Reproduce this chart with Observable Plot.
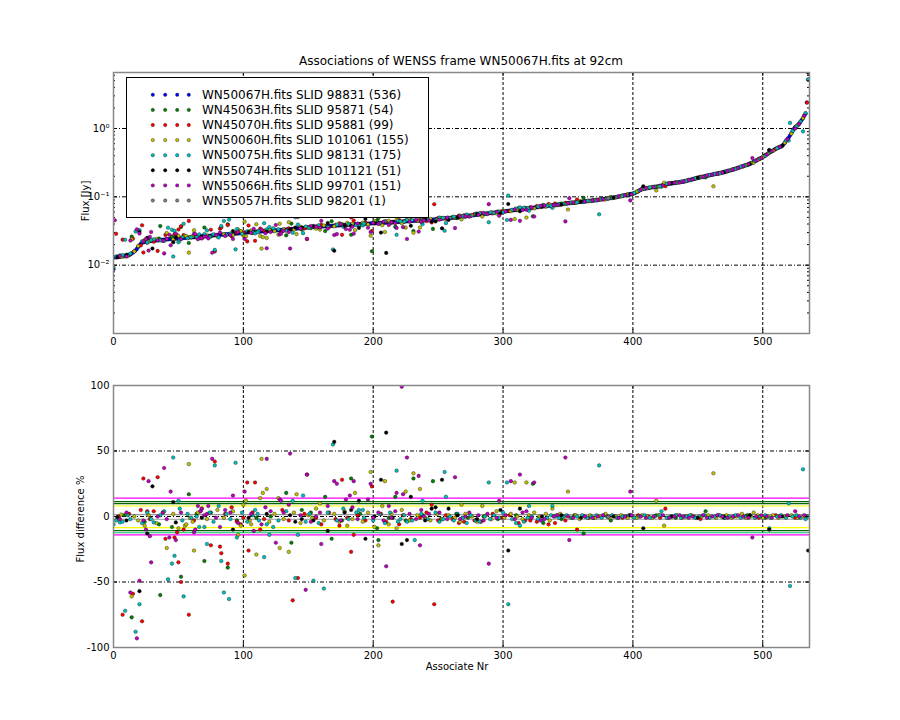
<!DOCTYPE html>
<html><head><meta charset="utf-8">
<script src="https://cdn.jsdelivr.net/npm/d3@7"></script>
<script src="https://cdn.jsdelivr.net/npm/@observablehq/plot@0.6"></script>
<style>
body{margin:0;background:#fff;font-family:"DejaVu Sans",sans-serif;}
#fig{position:relative;width:900px;height:720px;background:#fff;overflow:hidden}
#fig .panel{position:absolute;left:0}
.lbl{position:absolute;white-space:nowrap;color:#000;font-family:"DejaVu Sans",sans-serif;transform:translate(-50%,-50%)}
</style></head><body><div id="fig"></div>
<script>
// ---------------- data ----------------
// flux of the reference frame sources (mJy), ordered by associate nr 0..535
const mainFluxMJy = [
 8.7,
 13.0,13.0,13.1,13.2,13.3,13.4,13.5,13.6,13.7,13.8,14.0,14.2,14.5,14.8,15.3,
 15.9,16.5,17.3,18.5,19.5,20.5,21.3,
 21.6,21.8,22.0,22.2,22.4,22.6,
 22.7,22.8,22.9,23.0,23.0,23.1,23.2,23.3,23.4,23.5,23.6,23.7,23.8,23.9,24.0,24.1,24.2,24.3,24.4,24.4,24.5,
 24.6,24.7,24.8,24.9,25.0,25.1,25.2,25.3,25.4,25.5,25.5,25.6,25.7,25.8,25.9,26.0,26.1,26.2,26.3,26.4,26.5,26.6,26.7,26.8,26.9,27.1,
 27.2,27.3,27.4,27.5,27.6,27.7,27.8,27.9,28.0,28.1,28.2,28.3,28.4,28.5,28.5,28.6,28.7,28.8,28.9,29.0,29.1,29.3,29.4,29.6,29.8,
 29.9,30.0,30.1,30.2,30.3,30.4,30.5,30.6,30.7,30.8,30.9,31.0,31.1,31.2,31.3,31.4,31.5,31.6,31.7,31.8,31.9,32.0,32.1,32.2,32.3,32.4,
 32.5,32.6,32.8,32.9,33.0,33.2,33.3,33.4,33.5,33.7,33.8,33.9,34.0,34.2,34.3,34.5,34.6,34.8,34.9,35.0,35.2,35.4,35.6,35.8,
 35.9,36.0,36.1,36.2,36.3,36.4,36.5,36.6,36.7,36.8,36.9,37.0,37.1,37.2,37.3,37.4,37.5,37.6,37.7,37.8,37.9,38.0,38.1,38.3,38.5,
 38.6,38.7,38.8,38.9,39.0,39.1,39.2,39.3,39.4,39.5,39.6,39.7,39.8,39.9,40.0,40.1,40.2,40.3,40.4,40.5,40.6,40.7,40.8,40.9,41.0,41.1,41.2,41.3,
 41.4,41.5,41.6,41.7,41.8,41.9,42.0,42.1,42.2,42.3,42.4,42.5,42.6,42.7,42.8,42.9,43.0,
 43.1,43.3,43.4,43.6,43.7,43.9,44.0,44.2,44.3,44.4,44.5,44.6,44.7,44.8,44.9,45.0,45.1,45.2,45.3,45.5,45.6,45.8,45.9,46.1,46.3,46.5,46.7,46.9,47.2,47.5,
 47.7,47.9,48.0,48.2,48.4,48.5,48.7,48.9,49.0,49.2,49.4,49.6,49.8,50.0,
 50.3,50.6,50.9,51.2,51.5,51.8,52.1,52.4,52.7,53.0,53.3,53.6,53.9,54.2,54.5,54.8,55.1,55.4,55.7,56.0,56.3,56.6,56.9,57.2,57.5,57.8,58.1,58.4,58.7,59.0,59.3,59.6,60.0,
 60.3,60.6,60.9,61.3,61.6,62.0,62.3,62.7,63.0,63.4,63.7,64.1,64.4,64.8,65.1,65.5,65.8,66.2,66.5,66.9,67.2,67.6,68.0,
 68.4,68.8,69.2,69.6,70.0,70.4,70.8,71.2,71.6,72.0,72.4,72.8,73.2,73.6,74.0,74.4,74.8,75.2,75.6,76.0,76.4,76.8,77.2,77.6,78.0,78.4,78.8,79.4,80.0,
 80.4,80.8,81.2,81.6,82.0,82.4,82.8,83.2,83.6,84.0,84.4,84.8,85.2,85.6,86.0,86.4,86.8,87.2,87.6,88.0,88.5,89.0,89.5,90.2,91.0,
 91.5,92.0,92.6,93.2,93.8,94.4,95.0,95.6,96.2,96.8,97.4,98.0,98.7,99.4,100.5,101.5,102.5,103.5,104.5,105.5,106.5,107.5,108.5,109.5,110.3,111.0,
 113,115,118,121,124,127,130,
 131,132,133,134,135,136,137,138,139,140,141,142,143,144,146,148,150,152,154,
 155,156,157,158,159,160,161,162,163,164,165,166,167,169,171,173,175,177,179,181,183,185,187,189,191,
 193,195,197,199,201,203,205,207,209,211,213,215,217,219,221,223,225,227,229,232,235,238,241,244,247,250,
 254,258,262,266,270,274,278,282,286,290,294,299,305,
 311,318,325,332,340,348,356,364,372,380,
 392,404,416,428,440,452,464,476,490,505,
 515,525,535,545,558,585,620,660,700,740,
 790,850,920,990,1040,1080,1120,1170,
 1250,1330,1420,1550,1650,2400,5200
];

// other frames: [associate nr, flux difference %]
const greenDiff = [[8,1],[14,-77],[24,-4],[35,-6],[36,-60],[45,-8],[52,-46],[58,17],[64,2],[70,-34],[75,3],[88,-39],[95,-3],[110,-1],[121,0],[133,18],[137,-20],[145,5],[152,3],[163,15],[168,-17],[176,-3],[183,29],[190,2],[199,61],[203,-9],[204,-18],[212,-1],[217,15],[225,-3],[231,29],[238,1],[246,27],[252,-2],[264,2],[273,-1],[285,0],[296,-2],[310,1],[323,25],[331,-5],[345,-2],[355,1],[362,-13],[370,-1],[383,-3],[395,0],[418,1],[433,-1],[447,0],[456,4],[470,-1],[488,1],[502,-1]];

const redDiff = [[2,-121],[4,0],[7,-75],[12,2],[15,-59],[21,5],[22,-80],[23,29],[26,4],[28,-2],[31,4],[34,30],[40,-17],[47,-16],[49,-12],[50,-35],[52,-50],[54,-10],[58,-75],[62,-3],[67,4],[75,-22],[78,42],[82,-23],[83,-28],[86,2],[88,-36],[91,7],[95,-4],[98,-6],[100,-1],[103,26],[104,-26],[107,3],[109,26],[113,-10],[116,-2],[130,5],[135,-3],[138,-64],[142,-47],[147,2],[149,32],[156,-1],[160,-6],[166,3],[171,-2],[174,-7],[176,28],[180,-1],[183,-27],[185,-14],[188,1],[194,-3],[199,23],[206,2],[210,-4],[215,-65],[220,-6],[223,1],[229,-2],[236,-1],[241,3],[245,9],[247,-67],[250,-3],[256,1],[261,-2],[266,-5],[270,-4],[278,-3],[283,-4],[292,2],[299,-1],[305,1],[312,-5],[317,-3],[321,-3],[326,-4],[335,-6],[340,-5],[348,-3],[357,-10],[366,-1],[378,1],[386,0],[392,-1],[404,1],[412,0],[421,-1],[425,6],[440,0],[452,-2],[466,1],[478,0],[497,-1],[510,1],[525,-1],[534,0]];

const yellowDiff = [[6,1.5],[14,-61],[16,0],[24,-7],[41,-24],[55,-7],[56,-6],[58,40],[59,-1],[61,-4],[62,-26],[68,6],[96,-14],[98,-7],[101,-45],[100,9],[102,12],[106,-6],[110,-29],[113,14],[114,44],[115,18],[118,21],[127,14],[128,-24],[135,-27],[141,17],[156,6],[159,10],[174,-4],[180,-7],[186,18],[198,34],[201,-8],[204,-22],[207,8],[209,27],[212,-6],[225,19],[231,33],[236,21],[268,9],[309,26],[318,26],[338,6],[350,19],[418,12],[424,-7],[462,33],[493,3],
 [3,-2],[10,2],[19,-3],[27,1],[33,-5],[38,3],[46,2],[50,-9],[65,3],[72,-2],[80,5],[85,-1],[92,4],[105,-3],[120,-4],[124,2],[131,-2],[139,3],[144,-5],[150,1],[153,-1],[162,-3],[170,2],[178,4],[184,-2],[192,-4],[196,3],[214,2],[218,-9],[222,5],[228,-3],[234,1],[240,-1],[244,-3],[249,2],[253,-2],[258,1],[263,-1],[267,-4],[271,2],[276,0],[280,-4],[284,8],[287,1],[291,-2],[295,4],[301,-1],[306,2],[311,0],[315,-2],[320,1],[324,3],[328,0],[333,2],[336,-3],[341,1],[344,2],[347,0],[352,-1],[356,1],[359,-2],[363,0],[367,1],[371,-1],[375,0],[379,2],[382,-1],[387,0],[391,1],[396,-1],[400,0],[403,-1],[407,1],[411,0],[415,-1],[420,1],[427,-1],[430,0],[434,1],[438,-1],[442,0],[445,1],[449,-1],[453,0],[458,1],[464,-1],[468,0],[472,1],[476,-1],[480,0],[484,2],[487,-1],[491,0],[496,1],[500,-1],[504,0],[508,1],[512,-1],[517,0],[522,1],[527,-1],[531,0]];

const cyanDiff = [[0,-6],[5,-4.5],[7,-4],[9,-72],[17,-88],[20,-67],[31,-4.5],[42,-48],[45,-36],[46,45],[47,-30],[50,12],[51,6],[54,-61],[64,0],[66,-8],[70,-8],[72,-21],[78,39],[81,8],[83,-34],[85,-58],[89,-63],[94,41],[95,-16],[107,1],[109,5],[112,-3],[116,-31],[120,-14],[123,-8],[138,12],[140,-47],[142,-14],[146,16],[154,-49],[162,-55],[169,55],[189,5],[192,5],[218,35],[219,-4],[226,-4],[232,-18],[238,12],[255,34],[256,15],[289,26],[303,26],[304,-67],[320,8],[338,8],[374,39],[422,4],[505,-9],[520,10],[521,-53],[531,36],[535,0],
 [2,-3],[11,1],[13,-2],[22,-5],[26,3],[29,-2],[36,1],[39,4],[53,-3],[57,2],[60,-1],[74,3],[77,-4],[87,2],[90,-2],[99,3],[103,-4],[111,2],[118,-6],[127,-3],[133,4],[148,-4],[151,2],[158,-5],[165,3],[172,-3],[177,6],[181,-2],[187,3],[193,-1],[200,-3],[205,2],[209,-5],[213,3],[221,-2],[224,1],[230,-3],[237,2],[242,-2],[248,3],[251,-4],[254,-2],[259,0],[262,-3],[265,2],[269,-1],[272,-5],[275,1],[279,-3],[282,-4],[286,0],[290,-2],[293,1],[297,-1],[300,3],[307,-2],[310,-5],[313,-7],[316,-4],[319,-1],[322,0],[327,-2],[330,-3],[334,-1],[337,1],[340,0],[343,-1],[346,0],[349,1],[353,-1],[357,0],[361,1],[365,-1],[368,0],[372,1],[376,-1],[380,0],[384,1],[388,-1],[392,0],[397,1],[401,-1],[405,0],[409,1],[413,-1],[417,0],[421,1],[426,-1],[429,0],[433,1],[437,-1],[441,0],[444,1],[448,-1],[451,0],[455,1],[459,-1],[463,0],[467,1],[471,-1],[474,0],[479,1],[483,-1],[486,0],[490,1],[494,-1],[498,0],[502,1],[506,-1],[511,0],[514,1],[518,-1],[523,0],[526,1],[529,-1],[533,-2]];

const blackDiff = [[3,-0.5],[10,-3],[20,-57],[26,-13],[30,23],[46,11],[48,-4.5],[68,-1],[92,-10],[104,-1],[118,2],[136,1],[140,-4],[145,-2],[154,-3],[165,-11],[170,57],[178,3],[183,5],[189,12],[194,-17],[201,0],[206,28],[210,64],[215,-1],[222,-21],[226,-18],[229,15],[240,-3],[245,6],[248,7],[253,28],[258,6],[265,1],[280,-2],[298,5],[304,-26],[313,6],[330,0],[345,1],[360,-1],[385,0],[398,1],[408,-9],[430,0],[450,-1],[470,0],[490,1],[505,-10],[515,0],[535,-26]];

const magentaDiff = [[1,-250],[10,3],[13,-58],[18,-93],[20,-49],[25,-10],[27,27],[28,-15],[29,-35],[34,0],[38,3],[39,37],[43,-16],[44,19],[48,-18],[62,-12],[63,-10],[65,8],[67,4],[68,6],[72,2],[73,8],[76,44],[79,-1],[82,-8],[86,5],[92,16],[96,-5],[101,19],[108,-11],[117,7],[118,44],[121,4],[125,-20],[128,13],[129,12],[135,9],[136,48],[144,1],[148,-56],[149,32],[156,0],[160,-21],[165,8],[170,27],[172,25],[179,13],[182,16],[184,7],[185,27],[196,13],[198,25],[210,-38],[212,8],[218,18],[222,99],[223,17],[226,45],[235,31],[236,-22],[237,5],[263,30],[289,-36],[297,12],[306,27],[313,32],[324,26],[348,45],[351,-18],[398,19],[492,-16],[525,4],
 [5,-2],[23,-3],[41,-2],[52,3],[70,1],[90,3],[106,2],[114,-6],[131,3],[152,-4],[159,3],[175,-3],[188,-2],[200,-1],[204,3],[208,-3],[214,-1],[217,4],[228,2],[233,-2],[239,0],[243,2],[251,3],[257,-2],[267,-2],[271,0],[274,3],[281,1],[285,-3],[288,2],[295,-1],[302,1],[309,-2],[315,3],[318,4],[322,-1],[329,-3],[332,-2],[339,0],[342,1],[350,0],[354,-1],[363,0],[369,-1],[373,0],[377,1],[381,0],[389,-1],[394,0],[399,1],[406,0],[410,-1],[416,0],[423,1],[428,-1],[432,0],[436,1],[439,0],[443,-1],[446,0],[454,1],[457,-1],[461,0],[465,1],[469,0],[473,-1],[477,0],[481,1],[485,0],[489,-1],[495,0],[499,1],[503,0],[507,-1],[513,0],[519,1],[528,0],[532,1]];

const grayDiff = [[381,-0.4]];

const seriesLabels = [
  "WN50067H.fits SLID 98831 (536)",
  "WN45063H.fits SLID 95871 (54)",
  "WN45070H.fits SLID 95881 (99)",
  "WN50060H.fits SLID 101061 (155)",
  "WN50075H.fits SLID 98131 (175)",
  "WN55074H.fits SLID 101121 (51)",
  "WN55066H.fits SLID 99701 (151)",
  "WN55057H.fits SLID 98201 (1)"
];
const xTicks = [0, 100, 200, 300, 400, 500];
const yTicksTop = [0.01, 0.1, 1];
const yTickLabelsTop = ["10\u207B\u00B2", "10\u207B\u00B9", "10\u2070"];
const yTicksBottom = [-100, -50, 0, 50, 100];
const thresholdValues = [14.1, 11.3, 9.8, 8.0, 1.4, -2.1, -8.5, -10.8, -12.4, -14.1];

// ---------------- styles ----------------
const seriesColors = ["#0000ff", "#008000", "#ff0000", "#bfbf00", "#00bfbf", "#000000", "#bf00bf", "#808080"];
const thresholdColors = ["#ff00ff", "#006400", "#006400", "#ffff00", "#999999", "#999999", "#ffff00", "#006400", "#00c060", "#ff00ff"];
const font = "DejaVu Sans";
const W = 696, HT = 261, HB = 262;
const dotOpts = {r: 1.8, stroke: "#000", strokeWidth: 0.5, strokeOpacity: 0.7, clip: true};

const mainPts = mainFluxMJy.map((v, i) => ({i, flux: v / 1000}));
const others = [greenDiff, redDiff, yellowDiff, cyanDiff, blackDiff, magentaDiff, grayDiff];
const otherPts = others.map(arr => arr.map(([i, d]) => ({i, d, flux: mainFluxMJy[i] / 1000 * (1 - d / 100)})));

const minorTop = [0.001, 0.01, 0.1, 1].flatMap(b => [2,3,4,5,6,7,8,9].map(k => k * b)).filter(v => v < 6.6);
const majorTop = [0.001, 0.01, 0.1, 1];

function tickMarks(xs, ys, yMinor, H) {
  const m = [
    Plot.tickX(xs, {x: d => d, insetTop: H - 4, stroke: "#000"}),
    Plot.tickX(xs, {x: d => d, insetBottom: H - 4, stroke: "#000"}),
    Plot.tickY(ys, {y: d => d, insetRight: W - 4, stroke: "#000"}),
    Plot.tickY(ys, {y: d => d, insetLeft: W - 4, stroke: "#000"})
  ];
  if (yMinor) {
    m.push(Plot.tickY(yMinor, {y: d => d, insetRight: W - 2, stroke: "#000"}));
    m.push(Plot.tickY(yMinor, {y: d => d, insetLeft: W - 2, stroke: "#000"}));
  }
  return m;
}

const topPlot = Plot.plot({
  width: 900, height: 360,
  marginLeft: 113, marginRight: 91, marginTop: 72, marginBottom: 27,
  style: {fontFamily: font, fontSize: "10px", background: "transparent", color: "#000"},
  x: {domain: [0, 536]},
  y: {type: "log", domain: [0.001, 6.6]},
  marks: [
    Plot.gridX(xTicks.slice(1), {stroke: "#000", strokeOpacity: 1, strokeDasharray: "3,2"}),
    Plot.gridY(yTicksTop, {stroke: "#000", strokeOpacity: 1, strokeDasharray: "4,2,1,2"}),
    Plot.dot(mainPts, {x: "i", y: "flux", fill: seriesColors[0], ...dotOpts}),
    ...otherPts.map((pts, s) => Plot.dot(pts.filter(p => p.flux > 0), {x: "i", y: "flux", fill: seriesColors[s + 1], ...dotOpts})),
    ...tickMarks(xTicks, majorTop, minorTop, HT),
    Plot.axisX(xTicks, {anchor: "bottom", tickSize: 0, tickPadding: 4, label: null}),
    Plot.axisY(yTicksTop, {anchor: "left", tickSize: 0, tickPadding: 4, label: null,
      tickFormat: d => yTickLabelsTop[yTicksTop.indexOf(d)]}),
    Plot.frame({stroke: "#888", strokeWidth: 1.5})
  ]
});

const bottomPlot = Plot.plot({
  width: 900, height: 360,
  marginLeft: 113, marginRight: 91, marginTop: 25, marginBottom: 73,
  style: {fontFamily: font, fontSize: "10px", background: "transparent", color: "#000"},
  x: {domain: [0, 536]},
  y: {domain: [-100, 100]},
  marks: [
    Plot.gridX(xTicks.slice(1), {stroke: "#000", strokeOpacity: 1, strokeDasharray: "3,2"}),
    Plot.gridY([-50, 0, 50], {stroke: "#000", strokeOpacity: 1, strokeDasharray: "4,2,1,2"}),
    ...thresholdValues.map((v, k) => Plot.ruleY([v], {stroke: thresholdColors[k], strokeWidth: 1.2})),
    ...otherPts.map((pts, s) => Plot.dot(pts, {x: "i", y: "d", fill: seriesColors[s + 1], ...dotOpts})),
    ...tickMarks(xTicks, yTicksBottom, null, HB),
    Plot.axisX(xTicks, {anchor: "bottom", tickSize: 0, tickPadding: 4, label: null}),
    Plot.axisY(yTicksBottom, {anchor: "left", tickSize: 0, tickPadding: 4, label: null, tickFormat: d => String(d)}),
    Plot.frame({stroke: "#888", strokeWidth: 1.5})
  ]
});

const fig = document.getElementById("fig");
topPlot.classList.add("panel"); topPlot.style.top = "0px";
bottomPlot.classList.add("panel"); bottomPlot.style.top = "360px";
fig.appendChild(topPlot);
fig.appendChild(bottomPlot);

function label(text, x, y, size, rotate) {
  const el = document.createElement("div");
  el.className = "lbl";
  el.textContent = text;
  el.style.left = x + "px";
  el.style.top = y + "px";
  el.style.fontSize = size + "px";
  if (rotate) el.style.transform = "translate(-50%,-50%) rotate(-90deg)";
  fig.appendChild(el);
}
label("Associations of WENSS frame WN50067H.fits at 92cm", 461, 61, 12);
label("Flux [Jy]", 85, 201, 10, true);
label("Flux difference %", 80, 519, 10, true);
label("Associate Nr", 457, 666, 10);

// legend
const lg = d3.select(fig).append("svg")
  .attr("width", 304).attr("height", 142)
  .style("position", "absolute").style("left", "125.5px").style("top", "76.5px");
lg.append("rect").attr("x", 0.5).attr("y", 0.5).attr("width", 302).attr("height", 140)
  .attr("fill", "#fff").attr("stroke", "#000").attr("stroke-width", 1);
seriesLabels.forEach((t, k) => {
  const cy = 17.8 + k * 15.1;
  [26.8, 39.2, 51.2, 62.8].forEach(cx => {
    lg.append("circle").attr("cx", cx).attr("cy", cy).attr("r", 1.7)
      .attr("fill", seriesColors[k]).attr("stroke", "#000").attr("stroke-width", 0.5).attr("stroke-opacity", 0.7);
  });
  lg.append("text").attr("x", 76).attr("y", cy).attr("dy", "0.35em")
    .attr("font-family", font).attr("font-size", 12).attr("fill", "#000").text(t);
});
</script></body></html>
